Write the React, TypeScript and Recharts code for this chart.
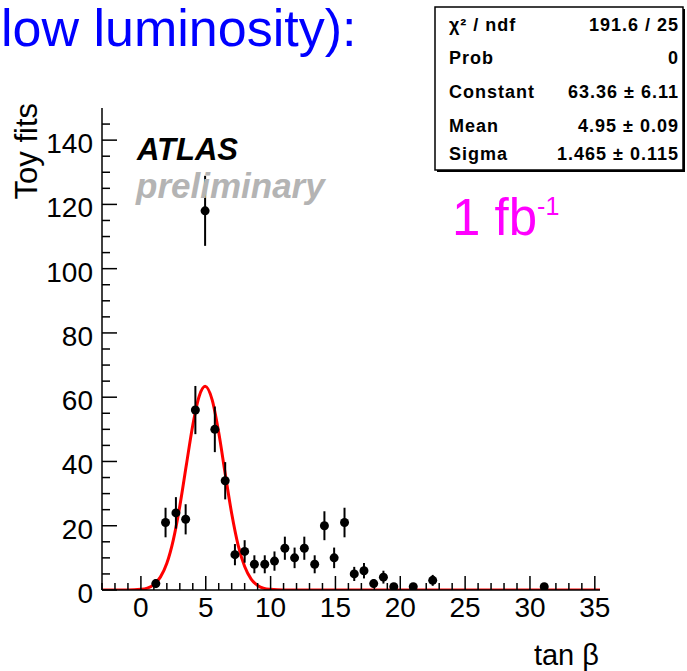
import { ComposedChart, Line, Scatter, ErrorBar, XAxis, YAxis } from "recharts";

// toy-fit histogram (bin centres, counts, sqrt(N) errors)
const ptX = [1.15, 1.9, 2.7, 3.45, 4.2, 4.95, 5.7, 6.5, 7.25, 8.0, 8.75, 9.55, 10.3, 11.1, 11.85, 12.6, 13.4, 14.15, 14.9, 15.7, 16.45, 17.2, 17.95, 18.7, 19.5, 21.0, 22.5, 31.1];
const ptY = [2, 21, 24, 22, 56, 118, 50, 34, 11, 12, 8, 8, 9, 13, 10, 13, 8, 20, 10, 21, 5, 6, 2, 4, 1, 1, 3, 1];
const ptErr = [1.4, 4.6, 4.9, 4.7, 7.5, 10.9, 7.1, 5.8, 3.3, 3.5, 2.8, 2.8, 3.0, 3.6, 3.2, 3.6, 2.8, 4.5, 3.2, 4.6, 2.2, 2.4, 1.4, 2.0, 1.0, 1.0, 1.7, 1.0];

// gaussian fit curve
const fitX = [-3, -1, 0, 0.5, 1, 1.5, 2, 2.5, 3, 3.5, 4, 4.5, 4.95, 5.5, 6, 6.5, 7, 7.5, 8, 8.5, 9, 9.5, 10, 11, 35.4];
const fitY = [0, 0, 0.2, 0.6, 1.7, 4.0, 8.3, 15.6, 26.1, 38.8, 51.3, 60.4, 63.4, 59.1, 49.0, 36.2, 23.8, 13.9, 7.3, 3.4, 1.4, 0.5, 0.2, 0, 0];

const xMajor = [0, 5, 10, 15, 20, 25, 30, 35];
const yMajor = [0, 20, 40, 60, 80, 100, 120, 140];

const statLabels = ["χ² / ndf", "Prob", "Constant", "Mean", "Sigma"];
const statValues = ["191.6 / 25", "0", "63.36 ± 6.11", "4.95 ± 0.09", "1.465 ± 0.115"];

const points = ptX.map((x, i) => ({ x, y: ptY[i], err: ptErr[i] }));
const fit = fitX.map((x, i) => ({ x, y: fitY[i] }));

const xTicks = Array.from({ length: 39 }, (_, i) => i - 3);
const yTicks = Array.from({ length: 30 }, (_, i) => i * 5);

const W = 687;
const H = 671;
const PL = 102;
const PR = 600;
const PT = 108;
const PB = 590;
const FONT = "'Liberation Sans', Arial, Helvetica, sans-serif";

function BottomTick(props: any) {
  const { x, payload } = props;
  const major = xMajor.includes(payload.value);
  return (
    <g>
      <line x1={x} x2={x} y1={PB} y2={PB - (major ? 14 : 7)} stroke="#000" strokeWidth={1.5} />
      {major && (
        <text x={x} y={PB + 27} textAnchor="middle" fontSize={28} fontFamily={FONT} fill="#000">
          {payload.value}
        </text>
      )}
    </g>
  );
}

function TopTick(props: any) {
  const { x, payload } = props;
  const major = xMajor.includes(payload.value);
  return <line x1={x} x2={x} y1={PT} y2={PT + (major ? 14 : 7)} stroke="#000" strokeWidth={1.5} />;
}

function LeftTick(props: any) {
  const { y, payload } = props;
  const major = yMajor.includes(payload.value);
  return (
    <g>
      <line x1={PL} x2={PL + (major ? 15 : 8)} y1={y} y2={y} stroke="#000" strokeWidth={1.5} />
      {major && (
        <text x={PL - 9} y={y + 13} textAnchor="end" fontSize={28} fontFamily={FONT} fill="#000">
          {payload.value}
        </text>
      )}
    </g>
  );
}

function RightTick(props: any) {
  const { y, payload } = props;
  const major = yMajor.includes(payload.value);
  return <line x1={PR} x2={PR - (major ? 15 : 8)} y1={y} y2={y} stroke="#000" strokeWidth={1.5} />;
}

export default function App() {
  const rowBase = [31, 64, 98, 132, 160];
  return (
    <div style={{ position: "absolute", left: 0, top: 0, width: W, height: H, background: "#fff" }}>
      <ComposedChart width={W} height={H} margin={{ top: PT, right: W - PR, bottom: 0, left: 0 }}>
        <XAxis
          xAxisId="b"
          dataKey="x"
          type="number"
          domain={[-3, 35.4]}
          allowDataOverflow
          ticks={xTicks}
          interval={0}
          height={H - PB}
          tickLine={false}
          axisLine={{ stroke: "#000", strokeWidth: 1.5 }}
          tick={(p: any) => <BottomTick {...p} />}
        />
        <XAxis
          xAxisId="t"
          orientation="top"
          type="number"
          domain={[-3, 35.4]}
          allowDataOverflow
          ticks={xTicks}
          interval={0}
          height={0}
          tickLine={false}
          axisLine={{ stroke: "#000", strokeWidth: 1.5 }}
          tick={(p: any) => <TopTick {...p} />}
        />
        <YAxis
          yAxisId="l"
          type="number"
          domain={[0, 150]}
          allowDataOverflow
          ticks={yTicks}
          interval={0}
          width={PL}
          tickLine={false}
          axisLine={{ stroke: "#000", strokeWidth: 1.5 }}
          tick={(p: any) => <LeftTick {...p} />}
        />
        <YAxis
          yAxisId="r"
          orientation="right"
          type="number"
          domain={[0, 150]}
          allowDataOverflow
          ticks={yTicks}
          interval={0}
          width={0}
          tickLine={false}
          axisLine={{ stroke: "#000", strokeWidth: 1.5 }}
          tick={(p: any) => <RightTick {...p} />}
        />
        <Line
          xAxisId="b"
          yAxisId="l"
          data={fit}
          dataKey="y"
          type="monotone"
          stroke="#ff0000"
          strokeWidth={3}
          dot={false}
          isAnimationActive={false}
        />
        <Scatter
          xAxisId="b"
          yAxisId="l"
          data={points}
          dataKey="y"
          isAnimationActive={false}
          shape={(p: any) => <circle cx={p.cx} cy={p.cy} r={4.5} fill="#000" />}
        >
          <ErrorBar dataKey="err" direction="y" width={0} stroke="#000" strokeWidth={2} isAnimationActive={false} />
        </Scatter>
      </ComposedChart>

      <svg width={W} height={H} style={{ position: "absolute", left: 0, top: 0, pointerEvents: "none" }}>
        <text x={1} y={46} fontSize={52} fontFamily={FONT} fill="#0000ff">
          low luminosity):
        </text>

        <text transform="rotate(-90)" x={-103} y={37} textAnchor="end" fontSize={31} fontFamily={FONT} fill="#000">
          Toy fits
        </text>
        <text x={599} y={665} textAnchor="end" fontSize={29} fontFamily={FONT} fill="#000">
          tan β
        </text>

        <text x={137} y={160} fontSize={31} fontWeight="bold" fontStyle="italic" fontFamily={FONT} fill="#000">
          ATLAS
        </text>
        <text x={136} y={198} fontSize={35} fontWeight="bold" fontStyle="italic" fontFamily={FONT} fill="#b4b4b4">
          preliminary
        </text>

        <text x={452} y={235} fontSize={51} fontFamily={FONT} fill="#ff00ff">
          1 fb
          <tspan fontSize={25} dy={-20}>-1</tspan>
        </text>

        <rect x={437} y={9} width={248} height={163} fill="#000" />
        <rect x={435} y={7} width={248} height={163} fill="#fff" stroke="#000" strokeWidth={1.5} />
        {statLabels.map((s, i) => (
          <text key={s} x={449} y={rowBase[i]} fontSize={18} fontWeight="bold" letterSpacing={1} fontFamily={FONT} fill="#000">
            {s}
          </text>
        ))}
        {statValues.map((s, i) => (
          <text key={s} x={679} y={rowBase[i]} textAnchor="end" fontSize={18} fontWeight="bold" letterSpacing={1} fontFamily={FONT} fill="#000">
            {s}
          </text>
        ))}
      </svg>
    </div>
  );
}
